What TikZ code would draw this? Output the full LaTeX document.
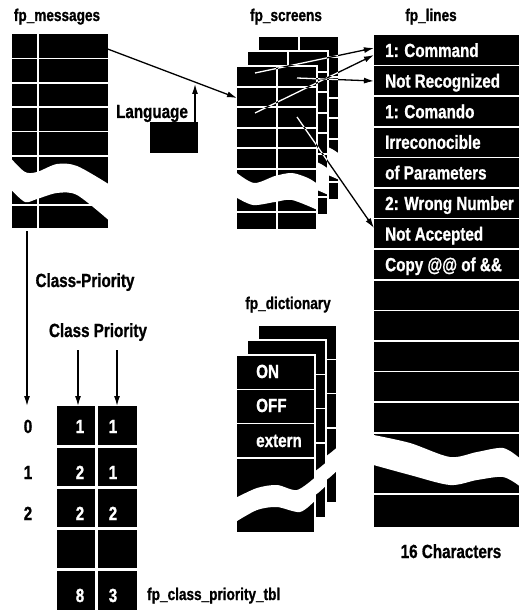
\documentclass[tikz,border=0pt]{standalone}
\usepackage{fontspec}
\setmainfont{Liberation Sans}[FakeStretch=0.8, BoldFeatures={FakeBold=1}]
\usetikzlibrary{arrows.meta,calc}
\newcommand\scrtbl[2]{%
 \begin{scope}[shift={(#1,#2)}]
  \fill[black] (0,0) rectangle (81,164);
  \foreach \r in {21,41,62,82,103,146} \draw[sep] (0,\r) -- (81,\r);
  \draw[sep] (41,0) -- (41,164);
  \fill[white] plot[smooth] coordinates {(-0.5,106) (18,117) (39,110) (56,107) (72,112) (81.5,118)}
     -- plot[smooth] coordinates {(81.5,144) (56,134) (39,136) (17,139) (-0.5,131)} -- cycle;
  \draw[white, line width=1.5pt] (0,0) rectangle (81,164);
 \end{scope}}
\newcommand\dictbl[2]{%
 \begin{scope}[shift={(#1,#2)}]
  \fill[black] (0,0) rectangle (79,178);
  \foreach \r in {34.3,68.6,103} \draw[sep] (0,\r) -- (79,\r);
  \fill[white] plot[smooth] coordinates {(-0.5,143) (21,133) (41,130) (61,135) (79.5,122)}
     -- plot[smooth] coordinates {(79.5,145) (64,157) (41,152) (21,155) (-0.5,167)} -- cycle;
  \draw[white, line width=1.5pt] (0,0) rectangle (79,178);
 \end{scope}}
\begin{document}
\begin{tikzpicture}[x=1pt,y=-1pt,
  lbl/.style={inner sep=0pt, anchor=base, font=\fontsize{19}{19}\selectfont\bfseries},
  ttl/.style={inner sep=0pt, anchor=base, font=\fontsize{17}{17}\selectfont\bfseries},
  wtxt/.style={lbl, text=white},
  wlft/.style={wtxt, anchor=base west},
  arr/.style={line width=1.3pt, -{Latex[length=10pt,width=6pt]}},
  shaft/.style={white, line width=1.3pt, shorten >=9pt},
  sep/.style={white, line width=1.5pt}]
\fill[white] (0,0) rectangle (525,612);
\useasboundingbox (0,0) rectangle (525,612);

% titles and labels
\node[ttl] (tMsg) at (57,21) {fp\_messages};
\node[ttl] (tScr) at (286,21) {fp\_screens};
\node[ttl] (tLin) at (431,21) {fp\_lines};
\node[ttl] (tDic) at (288,309) {fp\_dictionary};
\node[ttl, anchor=base west] (tCpt) at (147,600) {fp\_class\_priority\_tbl};
\node[lbl] (tLang) at (152,118) {Language};
\node[lbl] (tCP1) at (85,287) {Class-Priority};
\node[lbl] (tCP2) at (98,337) {Class Priority};
\node[lbl] (t16) at (451,558) {16 Characters};

% fp_messages
\fill (12,34) rectangle (108,228);
\foreach \r in {58.4,82.8,107.2,131.6,156,205} \draw[sep] (12,\r) -- (108,\r);
\draw[sep] (38,34) -- (38,228);
\fill[white] plot[smooth] coordinates {(11.5,159) (25,172) (37,172) (57,164) (77,166) (108.5,184)}
   -- plot[smooth] coordinates {(108.5,220) (77,195) (57,193) (37,199) (25,202) (11.5,190)} -- cycle;

% Language box
\fill (150,122) rectangle (198,153);

% fp_screens
\scrtbl{258}{36}
\scrtbl{247}{51}
\scrtbl{236}{66}

% fp_lines
\fill (374,35) rectangle (519,527);
\foreach \k in {1,...,13} \draw[sep] (374,{35+30.6*\k}) -- (519,{35+30.6*\k});
\draw[sep] (374,494) -- (519,494);
\fill[white] plot[smooth] coordinates {(373.5,435) (410,443) (450,457) (477,452) (503,448) (519.5,458)}
   -- plot[smooth] coordinates {(519.5,486) (503,477) (477,480) (450,485) (410,475) (373.5,465)} -- cycle;
\node[wlft] (l1) at (385,57) {1: Command};
\node[wlft] (l2) at (385,87.6) {Not Recognized};
\node[wlft] (l3) at (385,118.2) {1: Comando};
\node[wlft] (l4) at (385,148.8) {Irreconocible};
\node[wlft] (l5) at (385,179.4) {of Parameters};
\node[wlft] (l6) at (385,210) {2: Wrong Number};
\node[wlft] (l7) at (385,240.6) {Not Accepted};
\node[wlft] (l8) at (385,271.2) {Copy @@ of \&\&};

% fp_dictionary
\dictbl{258}{325}
\dictbl{247}{340}
\dictbl{236}{355}
\node[wlft] (dON) at (256,378) {ON};
\node[wlft] (dOFF) at (256,412) {OFF};
\node[wlft] (dEx) at (256,447) {extern};

% fp_class_priority_tbl
\fill (57,406) rectangle (137,610);
\draw[white, line width=3pt] (96.5,406) -- (96.5,610);
\foreach \r in {446.5,487.5,528.5,569.5} \draw[white, line width=2.5pt] (57,\r) -- (137,\r);
\node[lbl] (r0) at (28,433) {0};
\node[lbl] (r1) at (28,479) {1};
\node[lbl] (r2) at (28,520) {2};
\node[wtxt] (a0) at (80,433) {1};
\node[wtxt] (b0) at (113,433) {1};
\node[wtxt] (a1) at (80,479) {2};
\node[wtxt] (b1) at (113,479) {1};
\node[wtxt] (a2) at (80,520) {2};
\node[wtxt] (b2) at (113,520) {2};
\node[wtxt] (a4) at (80,602) {8};
\node[wtxt] (b4) at (113,602) {3};

% connector end points
\coordinate (msA) at (105,48);   \coordinate (scA) at (237,98);
\coordinate (lgA) at (195,122);  \coordinate (lgB) at (195,84);
\coordinate (cpA) at (27,231);   \coordinate (cpB) at (27,406);
\coordinate (c1A) at (78,350);   \coordinate (c1B) at (78,406);
\coordinate (c2A) at (117,350);  \coordinate (c2B) at (117,406);
\coordinate (s1) at (255,73);    \coordinate (e1) at (374,48);
\coordinate (s2) at (255,113);   \coordinate (e2) at (374,55);
\coordinate (s3) at (297,78);    \coordinate (e3) at (374,81);
\coordinate (s4) at (297,117);   \coordinate (e4) at (374,228);

\draw[arr] (msA) -- (scA);
\draw[arr] (lgA) -- (lgB);
\draw[arr] (cpA) -- (cpB);
\draw[arr] (c1A) -- (c1B);
\draw[arr] (c2A) -- (c2B);
% shafts: white over the black tables, black over white paper
\begin{scope}[blend mode=difference]
\draw[shaft] (s1) -- (e1);
\draw[shaft] (s2) -- (e2);
\draw[shaft] (s3) -- (e3);
\draw[shaft] (s4) -- (e4);
\end{scope}
\draw[arr] ($(e1)!11pt!(s1)$) -- (e1);
\draw[arr] ($(e2)!11pt!(s2)$) -- (e2);
\draw[arr] ($(e3)!11pt!(s3)$) -- (e3);
\draw[arr] ($(e4)!11pt!(s4)$) -- (e4);
\end{tikzpicture}
\end{document}
